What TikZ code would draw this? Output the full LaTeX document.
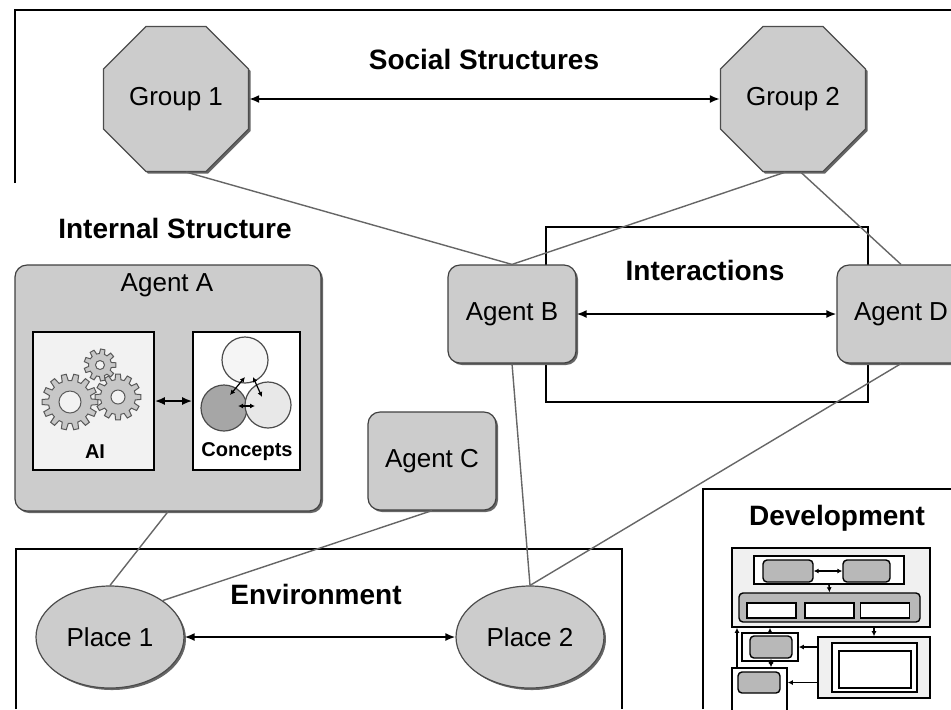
\documentclass[tikz,border=0pt]{standalone}
\usepackage{fontspec}
\setmainfont{Liberation Sans}
\usetikzlibrary{shapes.geometric,shadows,arrows.meta}

\tikzset{
  shade it/.style={drop shadow={shadow xshift=1pt, shadow yshift=-1pt, fill=black!60, opacity=1}},
  agent/.style={rectangle, rounded corners=6pt, draw=black!75, fill=black!20, line width=0.6pt,
    minimum width=64pt, minimum height=49pt, inner sep=0pt, shade it, font=\fontsize{13}{15}\selectfont},
  grp/.style={regular polygon, regular polygon sides=8, minimum size=78.5pt, inner sep=0pt,
    draw=black!70, fill=black!20, line width=0.6pt, shade it, font=\fontsize{13}{15}\selectfont},
  place/.style={ellipse, minimum width=74pt, minimum height=51pt, inner sep=0pt,
    draw=black!70, fill=black!20, line width=0.6pt, shade it, font=\fontsize{13}{15}\selectfont},
  title/.style={font=\fontsize{14}{16}\selectfont\bfseries},
  frame/.style={line width=1pt},
  link/.style={draw=black!60, line width=0.7pt},
  both/.style={{Latex[length=5pt,width=4pt]}-{Latex[length=5pt,width=4pt]}, line width=0.9pt},
  tiny/.style={{Latex[length=2.5pt,width=2.5pt]}-{Latex[length=2.5pt,width=2.5pt]}, line width=0.6pt},
  tip/.style={-{Latex[length=2.5pt,width=2.5pt]}, line width=0.8pt},
  inbox/.style={rectangle, draw=black, line width=0.8pt, inner sep=0pt},
  mini/.style={rectangle, rounded corners=2pt, draw=black, fill=black!28, line width=0.7pt, inner sep=0pt},
  cog/.style={draw=black!65, fill=black!22, line width=0.5pt},
}

\begin{document}
\begin{tikzpicture}[x=0.5pt, y=-0.5pt]
\useasboundingbox (0,0) rectangle (951,709);
\clip (0,0) rectangle (951,709);

% frames
\draw [frame] (15,183) -- (15,10) -- (951,10);
\draw [frame] (546,227) rectangle (868,402);
\draw [frame] (16,709) -- (16,549) -- (622,549) -- (622,709);
\draw [frame] (703,709) -- (703,489) -- (951,489);

\node [title] (social) at (484,59) {Social Structures};
\node [title] (internal) at (175,228) {Internal Structure};
\node [title] (inter) at (705,270) {Interactions};
\node [title] (env) at (316,594) {Environment};
\node [title] (dev) at (837,518) {Development};

\node [grp] (g1) at (176,99) {Group 1};
\node [grp] (g2) at (793,99) {Group 2};

\node [agent, minimum width=153pt, minimum height=123pt] (aa) at (168,388) {};
\node [font=\fontsize{13}{15}\selectfont] (aalabel) at (167,285) {Agent A};
\node [agent] (ab) at (512,314) {Agent B};
\node [agent] (ac) at (432,461) {Agent C};
\node [agent] (ad) at (901,314) {Agent D};

\node [place] (p1) at (110,637) {Place 1};
\node [place] (p2) at (530,637) {Place 2};

% inside agent A
\node [inbox, fill=black!5, minimum width=60.5pt, minimum height=69pt] (ai) at (93.5,401) {};
\node [inbox, fill=white, minimum width=53.5pt, minimum height=69pt] (concepts) at (246.5,401) {};
\node [font=\fontsize{10}{12}\selectfont\bfseries] (ailabel) at (95,452) {AI};
\node [font=\fontsize{10}{12}\selectfont\bfseries] (conlabel) at (247,452) {Concepts};
\draw [both] (ai) -- (concepts);

\foreach \gx/\gy/\gn/\gro/\gri/\gh in {70/402/14/28/21.5/11, 118/397/12/23/17.5/7, 100/365/9/16/11.5/4.5} {
  \pgfmathsetmacro\gs{360/\gn}
  \draw [cog] (\gx,\gy) +({-0.2*\gs}:\gro)
    \foreach \i in {1,...,\gn} {
      -- +({(\i-1)*\gs+0.2*\gs}:\gro) -- +({(\i-1)*\gs+0.32*\gs}:\gri)
      -- +({(\i-1)*\gs+0.68*\gs}:\gri) -- +({(\i-1)*\gs+0.8*\gs}:\gro)
    } -- cycle;
  \draw [cog, fill=black!5] (\gx,\gy) circle [radius=\gh];
}

\draw [draw=black!70, fill=black!4, line width=0.6pt] (245,360) circle [radius=23];
\draw [draw=black!70, fill=black!35, line width=0.6pt] (224,408) circle [radius=23];
\draw [draw=black!70, fill=black!9, line width=0.6pt] (268,405) circle [radius=23];
\coordinate (c1) at (245,377);
\coordinate (c2) at (253,377);
\coordinate (c3) at (230,395);
\coordinate (c4) at (262,397);
\coordinate (c5) at (238,406);
\coordinate (c6) at (255,406);
\draw [tiny] (c1) -- (c3);
\draw [tiny] (c2) -- (c4);
\draw [tiny] (c5) -- (c6);

% links
\draw [link] (g1.-82) -- (ab.north);
\draw [link] (g2.-96) -- (ab.north);
\draw [link] (g2.-84) -- (ad.north);
\draw [link] (aa.south) -- (p1.north);
\draw [link] (ac.south) -- (p1.north east);
\draw [link] (ab.south) -- (p2.north);
\draw [link] (ad.south) -- (p2.north);

\draw [both] (g1.east) -- (g2.west);
\draw [both] (ab.east) -- (ad.west);
\draw [both] (p1.east) -- (p2.west);

% development sketch
\node [inbox, fill=black!6, minimum width=99pt, minimum height=39.5pt] (dout) at (831,587.5) {};
\node [inbox, fill=white, minimum width=75pt, minimum height=14pt] (dtop) at (829,570) {};
\node [mini, minimum width=25pt, minimum height=11pt] (m1) at (788,571) {};
\node [mini, minimum width=23.5pt, minimum height=11pt] (m2) at (866.5,571) {};
\node [mini, minimum width=90.5pt, minimum height=14.5pt] (bar) at (829.5,607.5) {};
\foreach \bx/\bn in {771.5/b1, 829.5/b2, 885/b3}
  \node [inbox, fill=white, minimum width=24.5pt, minimum height=7.5pt] (\bn) at (\bx,610.5) {};
\node [inbox, fill=black!6, minimum width=56pt, minimum height=30.5pt] (dlow) at (874,667.5) {};
\node [inbox, fill=white, minimum width=42.5pt, minimum height=24.5pt] (dscr) at (874.5,667.5) {};
\node [inbox, fill=white, minimum width=36pt, minimum height=18.5pt] (dwin) at (875,669.5) {};
\node [inbox, fill=white, minimum width=28pt, minimum height=14pt] (s1f) at (770,647) {};
\node [mini, minimum width=21pt, minimum height=11pt] (s1) at (771,647) {};
\node [inbox, fill=white, minimum width=27.5pt, minimum height=23.5pt] (s2f) at (759.5,691.5) {};
\node [mini, minimum width=21pt, minimum height=10.5pt] (s2) at (759,682.5) {};
\coordinate (sl) at (737,668);

\draw [tiny] (m1) -- (m2);
\draw [tip] (dtop.south) -- (bar.north);
\draw [tip] (dout.south -| dlow.north) -- (dlow.north);
\draw [tip] (dlow.west |- s1f.east) -- (s1f.east);
\draw [tip] (dlow.west |- s2) -- (s2f.east |- s2);
\draw [tiny] (s1.south) -- (s1.south |- s2f.north);
\draw [tip] (s1f.north) -- (s1f.north |- dout.south);
\draw [tip] (sl) -- (sl |- dout.south);
\end{tikzpicture}
\end{document}
